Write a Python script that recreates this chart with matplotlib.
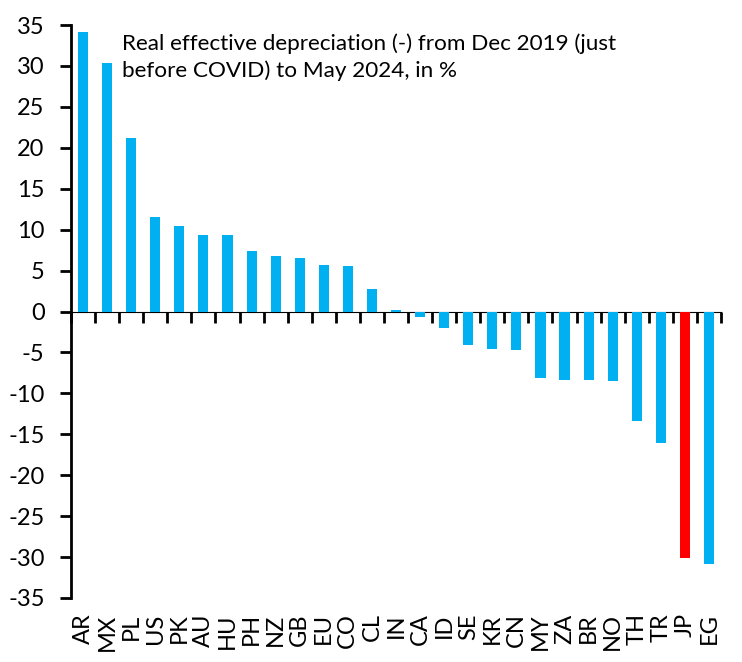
import matplotlib
matplotlib.use("Agg")
import matplotlib.pyplot as plt
import numpy as np

countries = ['AR', 'MX', 'PL', 'US', 'PK', 'AU', 'HU', 'PH', 'NZ', 'GB', 'EU', 'CO', 'CL', 'IN',
             'CA', 'ID', 'SE', 'KR', 'CN', 'MY', 'ZA', 'BR', 'NO', 'TH', 'TR', 'JP', 'EG']
values = [34.1, 30.4, 21.2, 11.6, 10.5, 9.4, 9.4, 7.4, 6.8, 6.5, 5.7, 5.6, 2.8, 0.2,
          -0.7, -2.0, -4.1, -4.6, -4.7, -8.15, -8.4, -8.4, -8.5, -13.4, -16.1, -30.1, -30.9]
highlight = 'JP'

plt.rcParams['font.family'] = ['Lato', 'DejaVu Sans']
plt.rcParams['axes.unicode_minus'] = False

fig = plt.figure(figsize=(7.42, 6.62), dpi=100)
ax = fig.add_axes([0.0957, 0.0967, 0.8760, 0.8655])

x = np.arange(len(countries))
colors = ['#FF0000' if c == highlight else '#00B0F0' for c in countries]
ax.bar(x, values, width=0.42, color=colors)

ax.set_xlim(-0.5, len(countries) - 0.5)
ax.set_ylim(-35, 35)
ax.set_yticks(np.arange(-35, 36, 5))
ax.tick_params(axis='y', direction='out', length=8, width=2, labelsize=17, pad=11)

ax.set_xticks(x)
ax.set_xticklabels(countries, rotation=90, fontsize=17)
ax.tick_params(axis='x', length=0, pad=11)

for s in ['top', 'right', 'bottom']:
    ax.spines[s].set_visible(False)
ax.spines['left'].set_linewidth(2)

# zero line with category separator ticks
sec = ax.secondary_xaxis(0.5)
sec.spines['bottom'].set_linewidth(2)
sec.set_xticks(np.arange(-0.5, len(countries), 1.0))
sec.set_xticklabels([])
sec.tick_params(axis='x', direction='in', length=8, width=2)

ax.text(0.078, 0.985, 'Real effective depreciation (-) from Dec 2019 (just\nbefore COVID) to May 2024, in %',
        transform=ax.transAxes, ha='left', va='top', fontsize=16.2, linespacing=1.4)

fig.savefig('out.png', dpi=100)
